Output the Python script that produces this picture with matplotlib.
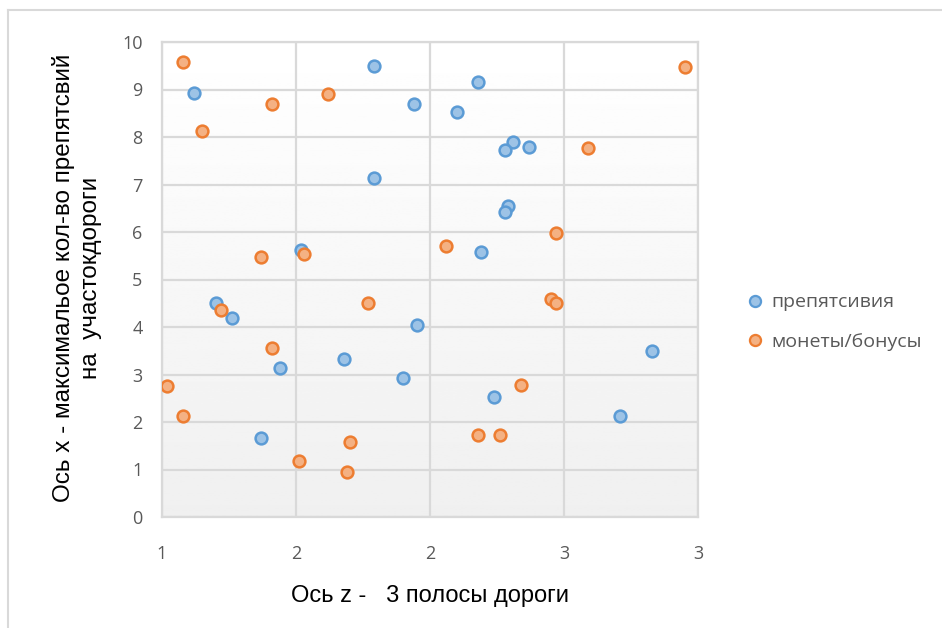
import math

import matplotlib

matplotlib.use("Agg")
import matplotlib.pyplot as plt
import numpy as np
from matplotlib.lines import Line2D
from matplotlib.ticker import FuncFormatter, MultipleLocator

# values
obst_x = [1.12, 1.79, 1.79, 1.94, 2.18, 2.10, 2.31, 2.28, 2.37, 2.29, 2.28, 2.19,
          1.52, 1.20, 1.26, 1.95, 1.68, 1.44, 1.90, 2.24, 2.83, 2.71, 1.37]
obst_y = [8.93, 9.50, 7.13, 8.70, 9.15, 8.53, 7.90, 7.72, 7.80, 6.55, 6.42, 5.57,
          5.62, 4.50, 4.18, 4.04, 3.32, 3.13, 2.92, 2.52, 3.50, 2.12, 1.66]
coin_x = [1.08, 1.15, 1.41, 1.62, 2.95, 2.59, 2.47, 2.06, 1.37, 1.53, 1.22, 1.77,
          2.45, 2.47, 1.41, 1.02, 2.34, 1.08, 2.18, 2.26, 1.70, 1.51, 1.69]
coin_y = [9.57, 8.12, 8.70, 8.90, 9.47, 7.76, 5.98, 5.71, 5.48, 5.53, 4.36, 4.50,
          4.58, 4.50, 3.55, 2.75, 2.78, 2.12, 1.72, 1.72, 1.58, 1.18, 0.95]
series_names = ["препятсивия", "монеты/бонусы"]

BLUE_EDGE, BLUE_FACE = "#5B9BD5", "#9DC3E6"
ORANGE_EDGE, ORANGE_FACE = "#ED7D31", "#F4B183"
GRID = "#d9d9d9"
TEXT = "#595959"


def excel_round(v, _pos):
    # excel rounds half up, so 2.5 shows as 3
    return f"{math.floor(v + 0.5 + 1e-9):d}"


fig = plt.figure(figsize=(9.42, 6.28), dpi=100)
ax = fig.add_axes([162 / 942, 1 - 517 / 628, (698 - 162) / 942, (517 - 42) / 628])

# light vertical gradient behind the plot area
grad = np.linspace(0.94, 1.0, 256).reshape(-1, 1)
ax.imshow(grad, cmap="gray", vmin=0, vmax=1, aspect="auto", origin="lower",
          extent=[0, 1, 0, 1], transform=ax.transAxes, zorder=0)

ax.scatter(obst_x, obst_y, s=72, c=BLUE_FACE, edgecolors=BLUE_EDGE, linewidths=1.8, zorder=3)
ax.scatter(coin_x, coin_y, s=72, c=ORANGE_FACE, edgecolors=ORANGE_EDGE, linewidths=1.8, zorder=3)

ax.set_xlim(1, 3)
ax.set_ylim(0, 10)
ax.xaxis.set_major_locator(MultipleLocator(0.5))
ax.yaxis.set_major_locator(MultipleLocator(1))
ax.xaxis.set_major_formatter(FuncFormatter(excel_round))
ax.grid(True, color=GRID, linewidth=1.6, zorder=1)
ax.set_axisbelow(True)
for sp in ax.spines.values():
    sp.set_color(GRID)
    sp.set_linewidth(1.6)

tick_font = dict(family=["Open Sans", "DejaVu Sans"], size=13)
ax.tick_params(length=0, colors=TEXT, pad=14)
ax.tick_params(axis="x", pad=20)
for lab in ax.get_xticklabels() + ax.get_yticklabels():
    lab.set_fontfamily(tick_font["family"])
    lab.set_fontsize(tick_font["size"])

ax.set_xlabel("Ось z -   3 полосы дороги",
              family=["Liberation Sans Narrow", "Liberation Sans", "DejaVu Sans"],
              size=17, color="black", labelpad=16)
fig.text(77 / 942, 1 - 278 / 628, "Ось х - максимальое кол-во препятсвий\nна  участокдороги",
         rotation=90, ha="center", va="center", ma="center", size=17.5,
         family=["Liberation Sans", "DejaVu Sans"], linespacing=1.25)

handles = [
    Line2D([], [], ls="none", marker="o", ms=8, mfc=BLUE_FACE, mec=BLUE_EDGE, mew=1.6),
    Line2D([], [], ls="none", marker="o", ms=8, mfc=ORANGE_FACE, mec=ORANGE_EDGE, mew=1.6),
]
leg = fig.legend(handles, series_names, loc="center left",
                 bbox_to_anchor=(728 / 942, 1 - 322 / 628), frameon=False,
                 handletextpad=0.35, labelspacing=1.1, handlelength=1.0,
                 prop=dict(family=["Open Sans", "DejaVu Sans"], size=14))
for t in leg.get_texts():
    t.set_color(TEXT)

# border of the chart box, only top and left show in the picture
fig.add_artist(Line2D([8 / 942, 8 / 942], [0, 1 - 10 / 628], color=GRID, lw=1.5))
fig.add_artist(Line2D([8 / 942, 1], [1 - 10 / 628, 1 - 10 / 628], color=GRID, lw=1.5))

fig.savefig("out.png", dpi=100)
